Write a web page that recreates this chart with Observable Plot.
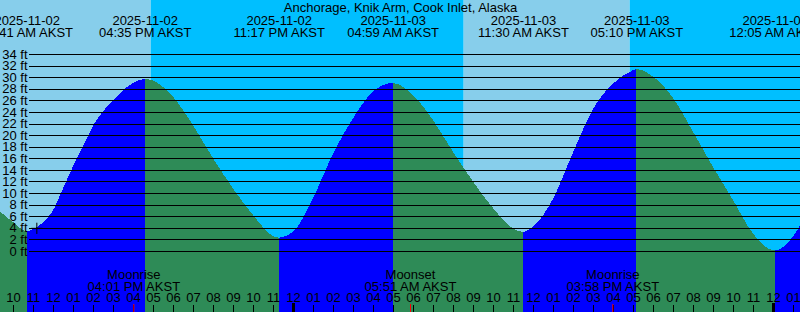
<!DOCTYPE html>
<html>
<head>
<meta charset="utf-8">
<script src="https://cdn.jsdelivr.net/npm/d3@7"></script>
<script src="https://cdn.jsdelivr.net/npm/@observablehq/plot@0.6"></script>
<style>
  html, body { margin: 0; padding: 0; background: #fff; }
  svg { display: block; }
</style>
</head>
<body>
<div id="chart"></div>
<script>
// ---------- data (local clock times, AKST) ----------
const title = "Anchorage, Knik Arm, Cook Inlet, Alaska";
const zoneLabel = "AKST";
const xDomain = ["2025-11-02T09:21", "2025-11-04T01:21"];

// tide height readings along the curve (ft)
const tideTimes = [
  "2025-11-02T09:21", "2025-11-02T10:00", "2025-11-02T10:41", "2025-11-02T11:00",
  "2025-11-02T11:30", "2025-11-02T12:00", "2025-11-02T12:30", "2025-11-02T13:00",
  "2025-11-02T13:30", "2025-11-02T14:00", "2025-11-02T15:00", "2025-11-02T16:00",
  "2025-11-02T16:35", "2025-11-02T17:00", "2025-11-02T18:00", "2025-11-02T19:00",
  "2025-11-02T20:00", "2025-11-02T21:00", "2025-11-02T22:00", "2025-11-02T23:00",
  "2025-11-02T23:17", "2025-11-03T00:00", "2025-11-03T01:00", "2025-11-03T02:00",
  "2025-11-03T03:00", "2025-11-03T04:00", "2025-11-03T04:59", "2025-11-03T06:00",
  "2025-11-03T07:00", "2025-11-03T08:00", "2025-11-03T09:00", "2025-11-03T10:00",
  "2025-11-03T11:00", "2025-11-03T11:30", "2025-11-03T12:00", "2025-11-03T13:00",
  "2025-11-03T14:00", "2025-11-03T15:00", "2025-11-03T16:00", "2025-11-03T17:00",
  "2025-11-03T17:10", "2025-11-03T18:00", "2025-11-03T19:00", "2025-11-03T20:00",
  "2025-11-03T21:00", "2025-11-03T22:00", "2025-11-03T23:00", "2025-11-04T00:05",
  "2025-11-04T01:00", "2025-11-04T01:21"
];
const tideHeights = [
  6.8, 5.0, 3.4, 3.8,
  4.9, 7.0, 10.8, 14.6,
  18.1, 21.6, 26.0, 29.0,
  29.7, 29.4, 26.6, 21.7,
  16.0, 10.8, 6.2, 2.6,
  2.3, 3.3, 9.1, 16.8,
  22.9, 27.5, 29.0, 26.9,
  22.6, 17.1, 12.0, 7.4,
  3.9, 3.3, 4.2, 9.0,
  17.0, 24.5, 28.9, 31.2,
  31.4, 30.1, 26.4, 20.6,
  14.5, 8.8, 3.0, 0.1,
  2.5, 4.4
];

// high / low tide times
const extremeTimes = [
  "2025-11-02T10:41", "2025-11-02T16:35", "2025-11-02T23:17", "2025-11-03T04:59",
  "2025-11-03T11:30", "2025-11-03T17:10", "2025-11-04T00:05"
];

// sunset / sunrise / sunset
const sunTimes = ["2025-11-02T16:53", "2025-11-03T08:32", "2025-11-03T16:50"];
const firstBandIsDay = true;

const moonNames = ["Moonrise", "Moonset", "Moonrise"];
const moonTimes = ["2025-11-02T16:01", "2025-11-03T05:51", "2025-11-03T15:58"];

const nowTime = "2025-11-02T11:10";
const nowHeight = 4.0;

const heightTicks = [0, 2, 4, 6, 8, 10, 12, 14, 16, 18, 20, 22, 24, 26, 28, 30, 32, 34];

// ---------- build ----------
const parse = s => new Date(s + ":00Z");
const xd = xDomain.map(parse);
const pts = tideTimes.map((s, i) => ({t: parse(s), h: tideHeights[i]}));
const extremes = extremeTimes.map(parse);
const bounds = [xd[0], ...extremes, xd[1]];
const hAt = t => {
  const p = pts.find(q => +q.t === +t);
  return p ? p.h : null;
};
// rising (flood) / falling (ebb) spans between consecutive extremes
const spans = [];
for (let k = 0; k < bounds.length - 1; k++) {
  const seg = pts.filter(p => p.t >= bounds[k] && p.t <= bounds[k + 1]);
  const rising = seg[seg.length - 1].h > seg[0].h;
  spans.push({a: bounds[k], b: bounds[k + 1], color: rising ? "#0000FF" : "#2E8B57"});
}

const bandEdges = [xd[0], ...sunTimes.map(parse), xd[1]];
const bands = bandEdges.slice(0, -1).map((a, i) => ({
  x1: a, x2: bandEdges[i + 1],
  fill: ((i % 2 === 0) === firstBandIsDay) ? "#87CEEB" : "#00BFFF"
}));

const moons = moonNames.map((n, i) => ({name: n, t: parse(moonTimes[i])}));
const nowRows = [{t: parse(nowTime), h: nowHeight}];

const hours = d3.utcHour.range(d3.utcHour.ceil(xd[0]), xd[1]);
const midnights = hours.filter(h => h.getUTCHours() === 0);

const fmtDate = d3.utcFormat("%Y-%m-%d");
const fmtClock = d3.utcFormat("%I:%M %p");
const fmtTime = d => fmtClock(d) + " " + zoneLabel;
const fmtHour = d3.utcFormat("%I");

const W = 800;
// gradient with hard colour stops at each high/low, positioned through the x scale
function tideGradient(index, scales) {
  const X = scales && typeof scales.x === "function"
    ? scales.x
    : (d => W * (d - xd[0]) / (xd[1] - xd[0]));
  const defs = d3.create("svg:defs");
  const g = defs.append("linearGradient")
    .attr("id", "tideFill")
    .attr("gradientUnits", "userSpaceOnUse")
    .attr("x1", 0).attr("x2", W).attr("y1", 0).attr("y2", 0);
  const clamp = v => Math.max(0, Math.min(1, v));
  spans.forEach(s => {
    g.append("stop").attr("offset", clamp(X(s.a) / W)).attr("stop-color", s.color);
    g.append("stop").attr("offset", clamp(X(s.b) / W)).attr("stop-color", s.color);
  });
  return defs.node();
}

const chart = Plot.plot({
  width: W,
  height: 312,
  margin: 0,
  x: {type: "utc", domain: xd, range: [0, W], axis: null},
  y: {domain: [0, 34], range: [251, 54], axis: null},
  color: {type: "identity"},
  style: {
    fontFamily: "'Liberation Sans', Arial, Helvetica, sans-serif",
    fontSize: "13px",
    background: "white",
    color: "black",
    overflow: "hidden"
  },
  marks: [
    tideGradient,
    Plot.rect(bands, {x1: "x1", x2: "x2", fill: "fill"}),
    Plot.areaY(pts, {
      x: "t", y1: -12, y2: "h", fill: "url(#tideFill)",
      curve: "monotone-x", shapeRendering: "crispEdges"
    }),
    Plot.ruleY(heightTicks, {stroke: "black", insetLeft: 29, shapeRendering: "crispEdges"}),
    Plot.text(heightTicks, {
      y: d => d, text: d => `${d} ft`, frameAnchor: "left",
      textAnchor: "end", dx: 27, lineAnchor: "middle"
    }),
    Plot.dot(nowRows, {x: "t", y: "h", symbol: "plus", r: 3.7, stroke: "black", strokeWidth: 1}),
    // header
    Plot.text([title], {text: d => d, frameAnchor: "top", dy: 7, lineAnchor: "middle"}),
    Plot.text(extremes, {x: d => d, text: d => fmtDate(d), frameAnchor: "top", dy: 20, lineAnchor: "middle"}),
    Plot.text(extremes, {x: d => d, text: d => fmtTime(d), frameAnchor: "top", dy: 32, lineAnchor: "middle"}),
    // footer
    Plot.text(moons, {x: "t", text: "name", frameAnchor: "bottom", dy: -37.7, lineAnchor: "middle"}),
    Plot.text(moons, {x: "t", text: d => fmtTime(d.t), frameAnchor: "bottom", dy: -26, lineAnchor: "middle"}),
    Plot.text(hours, {x: d => d, text: d => fmtHour(d), frameAnchor: "bottom", dy: -14.3, lineAnchor: "middle"}),
    Plot.ruleX(hours, {x: d => d, stroke: "black", insetTop: 305}),
    Plot.ruleX(midnights, {x: d => d, stroke: "black", strokeWidth: 3, insetTop: 303}),
    Plot.ruleX(moons, {x: "t", stroke: "red", insetTop: 304})
  ]
});
document.getElementById("chart").appendChild(chart);
</script>
</body>
</html>
